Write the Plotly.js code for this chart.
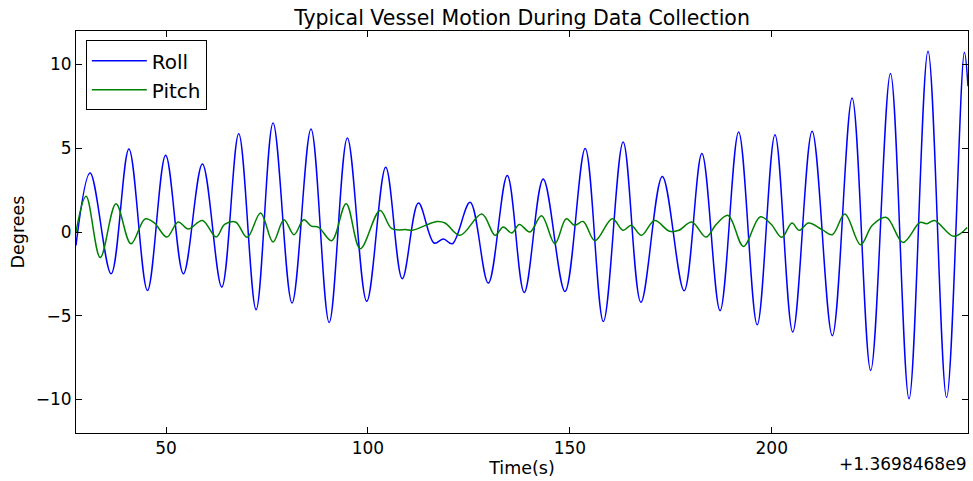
<!DOCTYPE html>
<html>
<head>
<meta charset="utf-8">
<script src="https://cdn.plot.ly/plotly-3.0.1.min.js"></script>
<style>html,body{margin:0;padding:0;background:#fff;}#chart{width:973px;height:481px;}</style>
</head>
<body>
<div id="chart"></div>
<script>
// Time offsets in seconds (axis offset +1.3698468e9)
const rollTime = [27.7, 31.2, 36.4, 40.8, 45.4, 49.9, 54.3, 59.0, 63.8, 68.0, 72.3, 76.5, 81.2, 85.9, 90.4, 94.9, 99.7, 104.4, 108.5, 112.5, 116.4, 118.7, 120.9, 125.3, 129.8, 134.5, 138.7, 143.4, 148.8, 153.8, 158.3, 163.2, 167.6, 172.9, 178.3, 182.7, 187.2, 191.8, 196.4, 200.8, 205.2, 210.0, 215.0, 219.9, 224.5, 229.4, 234.0, 238.7, 243.3, 247.7, 248.6];
const rollDeg = [-0.8, 3.52, -2.49, 4.96, -3.49, 4.58, -2.49, 4.06, -3.29, 5.87, -4.64, 6.51, -4.24, 6.15, -5.40, 5.61, -4.14, 3.86, -2.79, 1.73, -0.66, -0.42, -0.70, 1.77, -3.05, 3.38, -3.61, 3.17, -3.55, 4.98, -5.34, 5.38, -4.20, 3.32, -3.51, 4.68, -4.70, 5.97, -5.54, 5.81, -5.97, 6.01, -6.19, 8.00, -8.27, 9.46, -9.96, 10.79, -9.88, 10.73, 8.7];

const pitchTime = [27.7, 30.2, 33.7, 37.6, 41.3, 44.8, 47.1, 50.2, 53.0, 55.5, 59.0, 62.4, 64.5, 67.2, 70.1, 73.4, 76.5, 79.2, 81.7, 84.1, 86.0, 87.8, 91.0, 94.6, 98.1, 103.0, 105.9, 109.6, 111.0, 117.1, 119.1, 122.8, 128.2, 131.5, 133.5, 135.6, 137.5, 140.1, 143.0, 146.3, 149.1, 151.2, 153.3, 156.2, 160.5, 163.2, 165.2, 167.7, 171.0, 174.7, 177.0, 180.2, 183.7, 186.2, 189.2, 193.0, 197.1, 199.8, 202.5, 205.0, 206.8, 209.1, 212.5, 215.0, 218.1, 222.0, 224.9, 228.4, 232.5, 236.7, 238.4, 240.3, 245.1, 248.4];
const pitchDeg = [0.0, 2.13, -1.52, 1.69, -0.70, 0.78, 0.54, -0.30, 0.60, 0.18, 0.69, -0.30, 0.45, 0.60, -0.32, 1.13, -0.60, 0.73, -0.16, 0.73, 0.35, 0.28, -0.52, 1.69, -1.0, 1.29, 0.20, 0.14, 0.10, 0.63, 0.54, -0.20, 1.07, -0.20, 0.30, -0.06, 0.45, 0.0, 0.97, -0.70, 0.79, 0.40, 0.63, -0.52, 0.79, 0.10, 0.40, -0.20, 0.68, 0.04, 0.10, 0.60, -0.30, 0.44, 0.99, -0.86, 0.90, 0.48, -0.32, 0.54, 0.10, 0.54, 0.14, -0.16, 1.07, -0.76, 0.40, 0.87, -0.62, 0.57, 0.50, 0.69, -0.26, 0.27];

const xTicks = [50, 100, 150, 200];
const yTicks = [-10, -5, 0, 5, 10];
const offsetLabel = '+1.3698468e9';

const FONT = 'DejaVu Sans, sans-serif';

const traces = [
  {x: rollTime, y: rollDeg, name: 'Roll', type: 'scatter', mode: 'lines',
   line: {color: '#0000ff', width: 1.5, shape: 'spline', smoothing: 1}},
  {x: pitchTime, y: pitchDeg, name: 'Pitch', type: 'scatter', mode: 'lines',
   line: {color: '#008000', width: 1.5, shape: 'spline', smoothing: 1}}
];

const axisCommon = {
  showgrid: false, zeroline: false, showline: true, linecolor: '#000', linewidth: 1,
  mirror: 'ticks', ticks: 'inside', ticklen: 6, tickcolor: '#000', tickwidth: 1,
  tickfont: {family: FONT, size: 17, color: '#000'}
};

const layout = {
  width: 973, height: 481,
  margin: {l: 76, r: 5, t: 31, b: 48},
  paper_bgcolor: '#fff', plot_bgcolor: '#fff',
  font: {family: FONT, color: '#000'},
  title: {text: 'Typical Vessel Motion During Data Collection', font: {family: FONT, size: 20.5, color: '#000'},
          x: 0.5, xref: 'paper', xanchor: 'center', y: 0.963, yref: 'container', yanchor: 'middle'},
  xaxis: Object.assign({}, axisCommon, {
    range: [27.7, 248.6], tickmode: 'array', tickvals: xTicks, ticktext: xTicks.map(String),
    title: {text: 'Time(s)', font: {family: FONT, size: 17.5, color: '#000'}, standoff: 2}
  }),
  yaxis: Object.assign({}, axisCommon, {
    range: [-12, 12], tickmode: 'array', tickvals: yTicks,
    title: {text: 'Degrees', font: {family: FONT, size: 17.5, color: '#000'}, standoff: 6}
  }),
  showlegend: true,
  legend: {x: 0.011, y: 0.977, xanchor: 'left', yanchor: 'top', bgcolor: '#fff',
           bordercolor: '#000', borderwidth: 1, font: {family: FONT, size: 20, color: '#000'},
           itemwidth: 55, tracegroupgap: 0},
  annotations: [{text: offsetLabel, xref: 'paper', yref: 'paper', x: 1.0, y: -0.076,
                 xanchor: 'right', yanchor: 'middle', showarrow: false,
                 font: {family: FONT, size: 17, color: '#000'}}]
};

Plotly.newPlot('chart', traces, layout, {displayModeBar: false, staticPlot: true});
</script>
</body>
</html>
